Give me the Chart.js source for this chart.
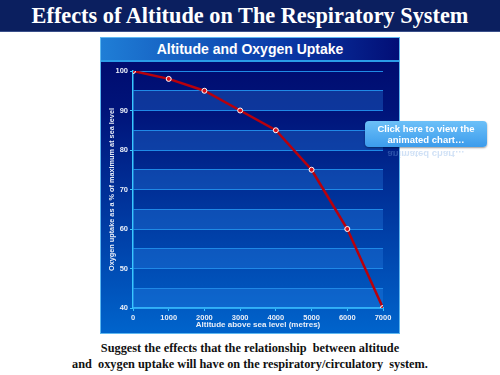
<!DOCTYPE html>
<html>
<head>
<meta charset="utf-8">
<script src="https://cdn.jsdelivr.net/npm/chart.js@4.4.0/dist/chart.umd.min.js"></script>
<style>
  body { margin:0; width:500px; height:375px; background:#fff; position:relative; overflow:hidden; font-family:"Liberation Serif", serif; }
  #topbar { position:absolute; left:0; top:0; width:500px; height:31px; background:#0b1f5f; border-bottom:1px solid #3a4f8a; color:#fff; font-weight:bold; font-size:22.3px; text-align:center; line-height:31px; }
  #panel { position:absolute; left:100px; top:37px; width:298px; height:295px; border:1px solid #5fb8f0; background:linear-gradient(to bottom, #00086a 0%, #00147a 25%, #0038a0 60%, #0064cc 100%); }
  #head { position:absolute; left:0; top:0; width:298px; height:22px; background:linear-gradient(to right, #1f7ed6, #0a3aa8 60%, #020e76); border-bottom:2px solid #2a9ce8; color:#fff; font-family:Arial, "Liberation Sans", sans-serif; font-weight:bold; font-size:14px; text-align:center; line-height:22px; }
  #wrap { position:absolute; left:100px; top:60px; width:300px; height:273px; }
  #btn { position:absolute; left:365px; top:121px; width:122px; height:26px; border-radius:4px; background:linear-gradient(to bottom, #6cc0f8, #3c9cec); box-shadow:0 1px 2px rgba(0,0,0,0.4); color:#fff; font-family:Arial, "Liberation Sans", sans-serif; font-weight:bold; font-size:9.5px; text-align:center; line-height:11px; padding-top:2px; box-sizing:border-box; }
  #refl { position:absolute; left:365px; top:148px; width:122px; height:12px; color:rgba(120,170,230,0.35); font-family:Arial, "Liberation Sans", sans-serif; font-weight:bold; font-size:9.5px; text-align:center; line-height:11px; transform:scaleY(-1); overflow:hidden; }
  #note { position:absolute; left:0; top:341px; width:500px; text-align:center; font-weight:bold; font-size:12.3px; line-height:15.5px; color:#111; }
</style>
</head>
<body>
<div id="topbar">Effects of Altitude on The Respiratory System</div>
<div id="panel"><div id="head">Altitude and Oxygen Uptake</div></div>
<div id="wrap"><canvas id="chart1" width="300" height="273"></canvas></div>
<div id="btn">Click here to view the<br>animated chart…</div>
<div id="refl">animated chart…</div>
<div id="note">Suggest the effects that the relationship&nbsp; between altitude<br>and&nbsp; oxygen uptake will have on the respiratory/circulatory&nbsp; system.</div>
<script>
// altitude (metres) and oxygen uptake (% of maximum at sea level)
var altitudes = [0, 1000, 2000, 3000, 4000, 5000, 6000, 7000];
var uptake = [100, 98, 95, 90, 85, 75, 60, 40];
var yMin = 40, yMax = 100;

let myChart1 = document.getElementById("chart1").getContext('2d');

var bandsPlugin = {
	id: "bands",
	beforeDatasetsDraw: function(chart) {
		var ctx = chart.ctx, a = chart.chartArea, y = chart.scales.y;
		ctx.save();
		for (var v = yMin; v < yMax; v += 10) {
			var top = y.getPixelForValue(v + 5), bot = y.getPixelForValue(v);
			ctx.fillStyle = "rgba(40,130,230,0.32)";
			ctx.fillRect(a.left, top, a.right - a.left, bot - top);
		}
		ctx.restore();
	}
};

var points = altitudes.map(function(x, i) { return { x: x, y: uptake[i] }; });

let chart1 = new Chart(myChart1, {
	type: "line",
	data: {
		datasets: [{
			label: "Oxygen uptake",
			data: points,
			borderColor: "#b8000c",
			borderWidth: 2.5,
			pointBackgroundColor: "#d8101a",
			pointBorderColor: "#ffffff",
			pointBorderWidth: 1,
			pointRadius: 2.5,
			tension: 0
		}]
	},
	options: {
		animation: false,
		responsive: false,
		layout: { padding: { top: 11, right: 17, left: 0, bottom: 0 } },
		plugins: { legend: { display: false }, tooltip: { enabled: false } },
		scales: {
			x: {
				type: "linear", min: 0, max: 7000,
				afterFit: function(s) { s.height = 25; },
				grid: { drawOnChartArea: false, drawTicks: true, tickLength: 3, color: "#38c8ff" },
				border: { color: "#38c8ff", width: 1.5 },
				ticks: {
					stepSize: 1000, color: "#e8eef8", padding: 2,
					font: { family: "Arial", size: 7.5, weight: "bold" },
					callback: function(v) { return String(v); }
				},
				title: { display: true, text: "Altitude above sea level (metres)", color: "#e8eef8", padding: { top: 0, bottom: 3 }, font: { family: "Arial", size: 8, weight: "bold" } }
			},
			y: {
				min: yMin, max: yMax,
				afterFit: function(s) { s.width = 33; },
				grid: {
					color: "#1f8ae6", lineWidth: 1, tickLength: 3,
					tickColor: function(c) { return c.tick.value % 10 === 0 ? "#38c8ff" : "rgba(0,0,0,0)"; }
				},
				border: { color: "#38c8ff", width: 1.5 },
				ticks: {
					stepSize: 5, color: "#e8eef8", padding: 2,
					font: { family: "Arial", size: 7.5, weight: "bold" },
					callback: function(v) { return v % 10 === 0 ? v : ""; }
				},
				title: { display: true, text: "Oxygen uptake as a % of maximum at sea level", color: "#e8eef8", padding: { top: 8, bottom: 0 }, font: { family: "Arial", size: 7.3, weight: "bold" } }
			}
		}
	},
	plugins: [bandsPlugin]
});
</script>
</body>
</html>
